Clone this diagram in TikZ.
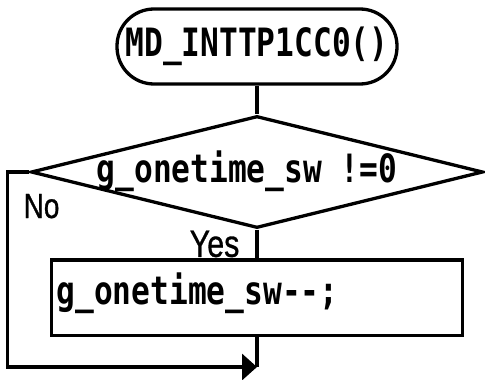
\documentclass[tikz,border=0pt]{standalone}
\usepackage{fontspec}
\setmainfont[FakeStretch=0.8, FakeBold=0.8]{Liberation Sans}
\newfontfamily\flowmono[FakeStretch=0.8]{DejaVu Sans Mono Bold}
\usetikzlibrary{arrows.meta,shapes.geometric,positioning}

\begin{document}
\begin{tikzpicture}[
        x=1pt, y=-1pt,
        line width=3.3pt,
        term/.style={draw, rectangle, rounded corners=37pt, minimum width=280pt, minimum height=75pt, inner sep=0pt, font=\flowmono\fontsize{39}{44}\selectfont},
        dec/.style={draw, diamond, minimum width=452pt, minimum height=112pt, inner sep=0pt},
        proc/.style={draw, rectangle, minimum width=411pt, minimum height=75.5pt, inner sep=0pt},
        code/.style={font=\flowmono\fontsize{39}{44}\selectfont, inner sep=0pt},
        lbl/.style={font=\fontsize{35}{40}\selectfont, inner sep=0pt},
        arr/.style={-{Triangle[length=15pt, width=26pt]}}
    ]
        \useasboundingbox (0,0) rectangle (485,380);

        \node[term] (start) at (257,46.5) {MD\_INTTP1CC0()};
        \node[dec] (check) at (257,172) {};
        \node[code, anchor=base] (cond) at (247,182) {g\_onetime\_sw !=0};
        \node[proc] (dec1) at (257,297.7) {};
        \node[code, anchor=base west] (stmt) at (55,304) {g\_onetime\_sw--;};
        \coordinate (join) at (257,367);

        \draw (start) -- (check);
        \draw (check.south) -- node[lbl, left=16pt, font=\fontsize{38}{44}\selectfont] (yes) {Yes} (dec1.north);
        \draw (dec1.south) -- (join);
        \draw[arr] (check.west) -- ++(-22,0) |- (join);
        \node[lbl, anchor=base west] (no) at (22,218) {No};

    \end{tikzpicture}
\end{document}
